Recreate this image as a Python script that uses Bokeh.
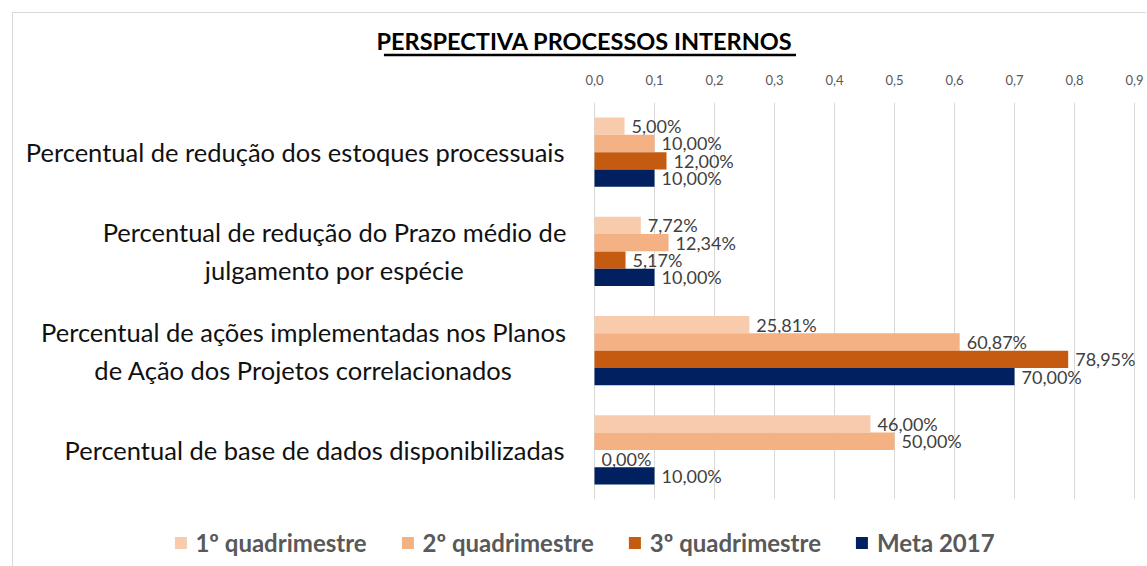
from bokeh.plotting import figure
from bokeh.layouts import column
from bokeh.models import (ColumnDataSource, FactorRange, Range1d, FixedTicker,
                          CustomJSTickFormatter, Legend, LegendItem)
from bokeh.transform import dodge
from bokeh.core.properties import value
from bokeh.embed import file_html
from bokeh.resources import INLINE

# ---------------- data ----------------
title_text = "PERSPECTIVA PROCESSOS INTERNOS"
categories = [
    "Percentual de redução dos estoques processuais",
    "Percentual de redução do Prazo médio de\njulgamento por espécie",
    "Percentual de ações implementadas nos Planos\nde Ação dos Projetos correlacionados",
    "Percentual de base de dados disponibilizadas",
]
series_names = ["1º quadrimestre", "2º quadrimestre", "3º quadrimestre", "Meta 2017"]
q1 = [0.05, 0.0772, 0.2581, 0.46]
q2 = [0.10, 0.1234, 0.6087, 0.50]
q3 = [0.12, 0.0517, 0.7895, 0.00]
meta = [0.10, 0.10, 0.70, 0.10]
tick_values = [0.0, 0.1, 0.2, 0.3, 0.4, 0.5, 0.6, 0.7, 0.8, 0.9]

# ---------------- layout / style ----------------
colors = ["#F8CBAD", "#F4B183", "#C55A11", "#002060"]
offsets = [0.2625, 0.0875, -0.0875, -0.2625]
bar_h = 0.175
single_idx = [0, 3]
multi_idx = [1, 2]
single_x = [-0.05, -0.05]
multi_x = [-0.4333, -0.485]
FONT = "Lato"

# ---- title strip (text + underline, pixel coordinates) ----
tf = figure(width=1133, height=57, output_backend="svg", toolbar_location=None,
            x_range=Range1d(0, 1133), y_range=Range1d(0, 57),
            x_axis_location=None, y_axis_location=None,
            min_border=0, outline_line_color=None)
tf.xgrid.visible = False
tf.ygrid.visible = False
tf.text(x=[567], y=[29.5], text=[title_text], text_align="center", text_baseline="middle",
        text_font=value(FONT), text_font_size="23.5px", text_font_style="bold",
        text_color="#000000")
tf.segment(x0=[365], y0=[15.5], x1=[780], y1=[15.5], line_color="#000000", line_width=2.5)

# ---- main chart ----
p = figure(frame_width=1125, frame_height=397, output_backend="svg", toolbar_location=None,
           y_range=FactorRange(factors=categories[::-1]),
           x_range=Range1d(-0.955, 0.92),
           x_axis_location="above",
           min_border_left=8, min_border_right=0, min_border_top=32, min_border_bottom=66)
p.y_range.range_padding = 0
p.outline_line_color = None
p.yaxis.visible = False

xa = p.xaxis[0]
xa.ticker = FixedTicker(ticks=tick_values)
xa.formatter = CustomJSTickFormatter(code="return tick.toFixed(1).replace('.', ',');")
xa.axis_line_color = None
xa.major_tick_line_color = None
xa.minor_tick_line_color = None
xa.major_label_standoff = 12
xa.major_label_text_font = FONT
xa.major_label_text_font_size = "13px"
xa.major_label_text_color = "#595959"

p.xgrid.grid_line_color = "#d9d9d9"
p.xgrid.ticker = FixedTicker(ticks=tick_values)
p.ygrid.grid_line_color = None

src = ColumnDataSource(dict(cat=categories, q1=q1, q2=q2, q3=q3, meta=meta))
fields = ["q1", "q2", "q3", "meta"]
data_lists = [q1, q2, q3, meta]
items = []
for f, vals, off, col, name in zip(fields, data_lists, offsets, colors, series_names):
    r = p.hbar(y=dodge("cat", off, range=p.y_range), left=0, right=f, height=bar_h,
               fill_color=col, line_color=None, source=src)
    items.append(LegendItem(label=name, renderers=[r]))
    lsrc = ColumnDataSource(dict(cat=categories, v=vals,
                                 t=[("%.2f%%" % (v * 100)).replace(".", ",") for v in vals]))
    p.text(x="v", y=dodge("cat", off, range=p.y_range), text="t", source=lsrc,
           x_offset=7, text_align="left", text_baseline="middle",
           text_font=value(FONT), text_font_size="18px", text_color="#404040")

# category labels
s_src = ColumnDataSource(dict(cat=[categories[i] for i in single_idx], x=single_x))
m_src = ColumnDataSource(dict(cat=[categories[i] for i in multi_idx], x=multi_x))
for s, al in ((s_src, "right"), (m_src, "center")):
    p.text(x="x", y="cat", text="cat", source=s, text_align=al,
           text_baseline="middle", text_font=value(FONT), text_font_size="25.5px",
           text_color="#111111", text_line_height=1.26)

legend = Legend(items=items, orientation="horizontal", location="top_center",
                label_text_font=FONT, label_text_font_size="24px",
                label_text_font_style="bold", label_text_color="#595959",
                glyph_width=15, glyph_height=15, label_standoff=8, spacing=33,
                padding=0, margin=29, border_line_color=None,
                background_fill_alpha=0)
p.add_layout(legend, "below")

layout = column(tf, p, spacing=0, margin=(12, 0, 0, 12),
                styles={"border-top": "1px solid #d9d9d9", "border-left": "1px solid #d9d9d9"})

open("out.html", "w").write(file_html(layout, INLINE))
